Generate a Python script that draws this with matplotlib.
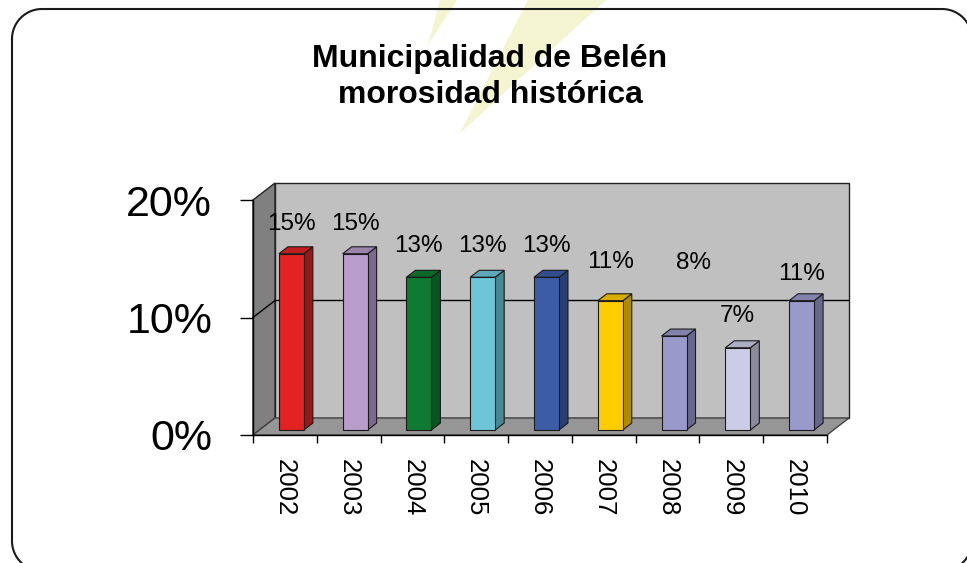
import matplotlib.pyplot as plt
from matplotlib.patches import Polygon
import matplotlib.colors as mc
import numpy as np

plt.rcParams['font.family'] = ['Liberation Sans', 'DejaVu Sans']

# data
years = ['2002', '2003', '2004', '2005', '2006', '2007', '2008', '2009', '2010']
morosidad = [15, 15, 13, 13, 13, 11, 8, 7, 11]
etiquetas = ['15%', '15%', '13%', '13%', '13%', '11%', '8%', '7%', '11%']
y_ticks = [0, 10, 20]
y_ticklabels = ['0%', '10%', '20%']
titulo = 'Municipalidad de Belén\nmorosidad histórica'

# style / layout
colores = ['#E32222', '#B89CCB', '#0E7A32', '#6CC6D8', '#3C5CA8',
           '#FFCC00', '#9999CC', '#CCCCE6', '#9999CC']
label_lift = [3.0, 3.0, 3.1, 3.1, 3.1, 3.7, 6.6, 3.1, 2.7]
label_shift = [0, 0, 0, 0, 0, 0, 0.3, 0, 0]

W, H = 967, 563
fig = plt.figure(figsize=(W / 100, H / 100), dpi=100)

# background layer in pixel coords (y down)
bg = fig.add_axes([0, 0, 1, 1], zorder=0)
bg.set_xlim(0, W)
bg.set_ylim(H, 0)
bg.axis('off')
bg.add_patch(Polygon([(440, 0), (457, 0), (428, 45)], closed=True,
                     facecolor='#F4F4D0', edgecolor='none'))
bg.add_patch(Polygon([(528, 0), (606, 0), (460, 133)], closed=True,
                     facecolor='#F4F4D0', edgecolor='none'))

# rounded frame
fl, fr, ft, fb, rad = 12, 972, 9, 571, 30
t = np.linspace(0, np.pi / 2, 20)
fx = np.concatenate([fl + rad - rad * np.cos(t), fr - rad + rad * np.sin(t),
                     fr - rad + rad * np.cos(t), fl + rad - rad * np.sin(t), [fl]])
fy = np.concatenate([ft + rad - rad * np.sin(t), ft + rad - rad * np.cos(t),
                     fb - rad + rad * np.sin(t), fb - rad + rad * np.cos(t), [ft + rad]])
bg.plot(fx, fy, color='#1a1a1a', lw=1.5, clip_on=False)

bg.text(490, 77, titulo, ha='center', va='center', fontsize=23,
        fontweight='bold', linespacing=1.3)

# main chart
x0, x1, yb, yt = 253, 827, 435, 200
ax = fig.add_axes([x0 / W, 1 - yb / H, (x1 - x0) / W, (yb - yt) / H], zorder=1)
ax.set_xlim(-0.5, 8.5)
ax.set_ylim(0, 20)
ax.patch.set_alpha(0)

pxx = (x1 - x0) / 9.0
pxy = (yb - yt) / 20.0
DX = 22 / pxx
DY = 17 / pxy


def p(x, y, f):
    return (x + f * DX, y + f * DY)


# walls and floor
ax.add_patch(Polygon([p(-0.5, 0, 1), p(8.5, 0, 1), p(8.5, 20, 1), p(-0.5, 20, 1)],
                     closed=True, facecolor='#C0C0C0', edgecolor='#222222',
                     lw=1, clip_on=False, zorder=1))
ax.add_patch(Polygon([p(-0.5, 0, 0), p(-0.5, 20, 0), p(-0.5, 20, 1), p(-0.5, 0, 1)],
                     closed=True, facecolor='#808080', edgecolor='#222222',
                     lw=1, clip_on=False, zorder=1))
ax.add_patch(Polygon([p(-0.5, 0, 0), p(8.5, 0, 0), p(8.5, 0, 1), p(-0.5, 0, 1)],
                     closed=True, facecolor='#969696', edgecolor='#444444',
                     lw=1, clip_on=False, zorder=1))
# gridline at 10%
gx = [p(-0.5, 10, 0)[0], p(-0.5, 10, 1)[0], p(8.5, 10, 1)[0]]
gy = [p(-0.5, 10, 0)[1], p(-0.5, 10, 1)[1], p(8.5, 10, 1)[1]]
ax.plot(gx, gy, color='black', lw=1, clip_on=False, zorder=2)


def shade(c, k):
    r, g, b = mc.to_rgb(c)
    return (r * k, g * k, b * k)


w = 25 / pxx
f0 = 5 / 17
f1 = f0 + 9 / 22
for i, (v, c) in enumerate(zip(morosidad, colores)):
    l, r = i - w / 2, i + w / 2
    front = [p(l, 0, f0), p(r, 0, f0), p(r, v, f0), p(l, v, f0)]
    side = [p(r, 0, f0), p(r, 0, f1), p(r, v, f1), p(r, v, f0)]
    top = [p(l, v, f0), p(r, v, f0), p(r, v, f1), p(l, v, f1)]
    for pts, k in ((side, 0.68), (top, 0.85), (front, 1.0)):
        ax.add_patch(Polygon(pts, closed=True, facecolor=shade(c, k),
                             edgecolor='#1a1a1a', lw=0.8, clip_on=False, zorder=3))
    ax.text(i + f0 * DX + label_shift[i], v + label_lift[i], etiquetas[i],
            ha='center', va='center', fontsize=17.5, zorder=4)

for s in ['top', 'right']:
    ax.spines[s].set_visible(False)
for s in ['left', 'bottom']:
    ax.spines[s].set_color('black')
    ax.spines[s].set_linewidth(1)
    ax.spines[s].set_zorder(5)

ax.set_yticks(y_ticks)
ax.set_yticklabels(y_ticklabels, fontsize=31)
ax.tick_params(axis='y', length=9.4, width=1, pad=20)

ax.set_xticks(np.arange(-0.5, 9, 1))
ax.set_xticklabels([])
ax.set_xticks(np.arange(9), minor=True)
ax.set_xticklabels(years, minor=True, rotation=270, fontsize=18.5)
ax.tick_params(axis='x', which='major', length=6, width=1)
ax.tick_params(axis='x', which='minor', length=0, pad=17)

fig.savefig('out.png', dpi=100)
